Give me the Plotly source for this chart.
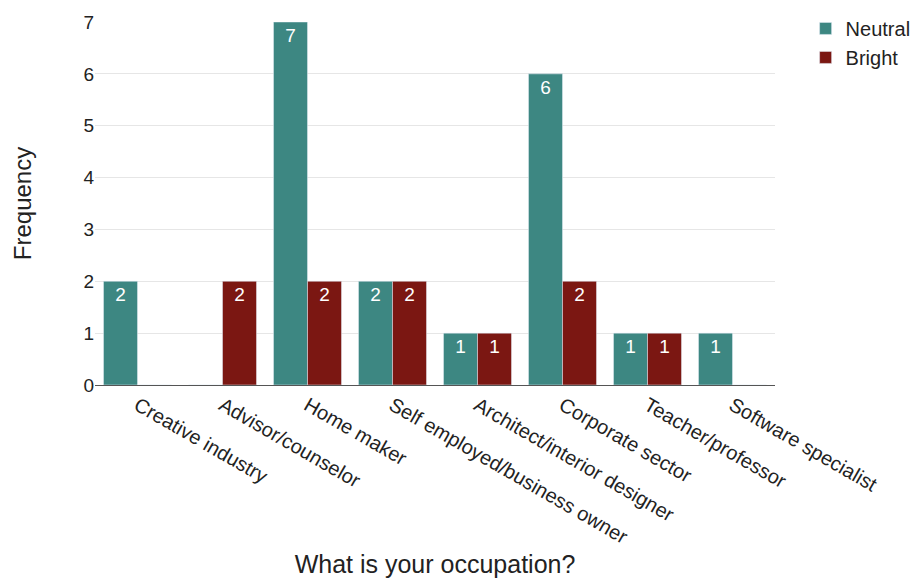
import plotly.graph_objects as go

categories = [
    "Creative industry",
    "Advisor/counselor",
    "Home maker",
    "Self employed/business owner",
    "Architect/interior designer",
    "Corporate sector",
    "Teacher/professor",
    "Software specialist",
]
neutral = [2, 0, 7, 2, 1, 6, 1, 1]
bright = [0, 2, 2, 2, 1, 2, 1, 0]

FONT = "Arial, Liberation Sans, sans-serif"
TEAL = "#3d8782"
RED = "#7b1712"


def labels(vals):
    return [str(v) if v else "" for v in vals]


fig = go.Figure()
for name, vals, color in (("Neutral", neutral, TEAL), ("Bright", bright, RED)):
    fig.add_trace(go.Bar(
        name=name, x=categories, y=vals, marker_color=color,
        text=labels(vals), textposition="inside", insidetextanchor="end",
        textfont=dict(color="white", size=19, family=FONT), textangle=0,
    ))

fig.update_layout(
    width=914, height=580,
    margin=dict(l=95, r=139, t=22, b=195, autoexpand=False),
    barmode="group", bargap=0.2, bargroupgap=0,
    plot_bgcolor="white", paper_bgcolor="white",
    font=dict(family=FONT, size=20, color="#222"),
    uniformtext=dict(minsize=19, mode="show"),
    legend=dict(
        x=1.045, y=1.036, xanchor="left", yanchor="top",
        font=dict(size=20, color="#222"), itemwidth=30,
        tracegroupgap=6,
    ),
    xaxis=dict(
        title=dict(text="What is your occupation?", font=dict(size=25), standoff=8),
        tickangle=30, tickfont=dict(size=20), automargin=False,
        showline=True, linecolor="#555", linewidth=1,
        ticks="", showgrid=False,
    ),
    yaxis=dict(
        title=dict(text="Frequency", font=dict(size=24), standoff=45),
        range=[0, 7], dtick=1, tickfont=dict(size=19), automargin=False,
        showgrid=True, gridcolor="#e6e6e6", zeroline=False,
        ticks="", showline=False,
    ),
)

fig.write_html("out.html")
